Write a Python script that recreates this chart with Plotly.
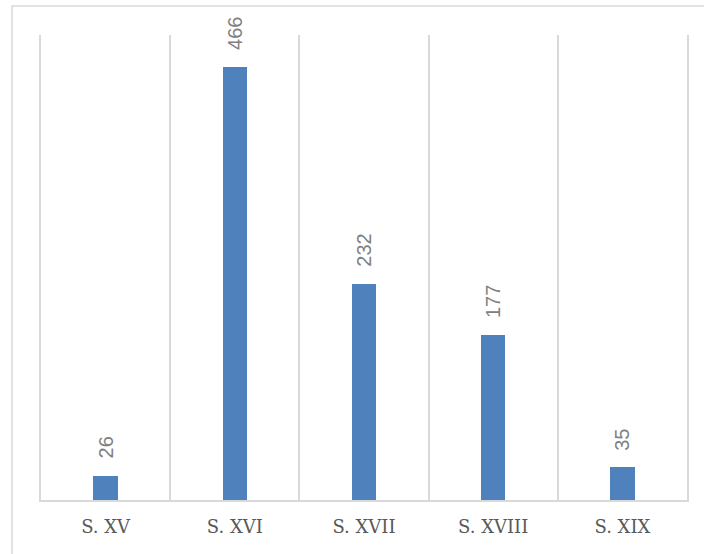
import plotly.graph_objects as go

categories = ["S. XV", "S. XVI", "S. XVII", "S. XVIII", "S. XIX"]
values = [26, 466, 232, 177, 35]

bar_color = "#4f81bd"
grid_color = "#d9d9d9"

n = len(categories)

fig = go.Figure()
fig.add_trace(go.Bar(
    x=list(range(n)), y=values,
    marker=dict(color=bar_color, line=dict(width=0)),
    width=0.19, hoverinfo="skip", showlegend=False,
))
# helper trace so the boundary-grid axis is drawn
fig.add_trace(go.Scatter(
    x=[None], y=[None], xaxis="x2", mode="markers",
    hoverinfo="skip", showlegend=False,
))

for i, v in enumerate(values):
    fig.add_annotation(
        x=i, y=v, xref="x", yref="y", text=str(v), showarrow=False,
        textangle=-90, yanchor="bottom", xanchor="center", yshift=15,
        font=dict(family="Liberation Sans", size=20, color="#808080"),
    )

fig.update_layout(
    width=704, height=554,
    margin=dict(l=41, r=17, t=35, b=54),
    paper_bgcolor="white", plot_bgcolor="white",
    bargap=0,
    xaxis=dict(
        range=[-0.5, n - 0.5], tickmode="array",
        tickvals=list(range(n)), ticktext=categories,
        showgrid=False, zeroline=False,
        showline=True, linecolor=grid_color, linewidth=1.5,
        ticks="outside", ticklen=10, tickcolor="rgba(0,0,0,0)",
        tickfont=dict(family="DejaVu Serif", size=18, color="#595959"),
    ),
    xaxis2=dict(
        overlaying="x", range=[-0.5, n - 0.5], tickmode="array",
        tickvals=[i + 0.5 for i in range(n - 1)],
        showticklabels=False, showgrid=True, gridcolor=grid_color,
        gridwidth=1.5, zeroline=False, showline=False, ticks="",
    ),
    yaxis=dict(
        range=[0, 500], showgrid=False, zeroline=False,
        showticklabels=False, ticks="",
        showline=True, mirror=True, linecolor=grid_color, linewidth=1.5,
    ),
    shapes=[dict(
        type="rect", xref="paper", yref="paper",
        x0=-0.0449, x1=1.05, y0=-0.2, y1=1.0624,
        line=dict(color=grid_color, width=1.5), fillcolor="rgba(0,0,0,0)",
        layer="below",
    )],
)

fig.write_html(
    "out.html",
    config={"displayModeBar": False},
    post_script="document.body.style.margin='0';",
)
